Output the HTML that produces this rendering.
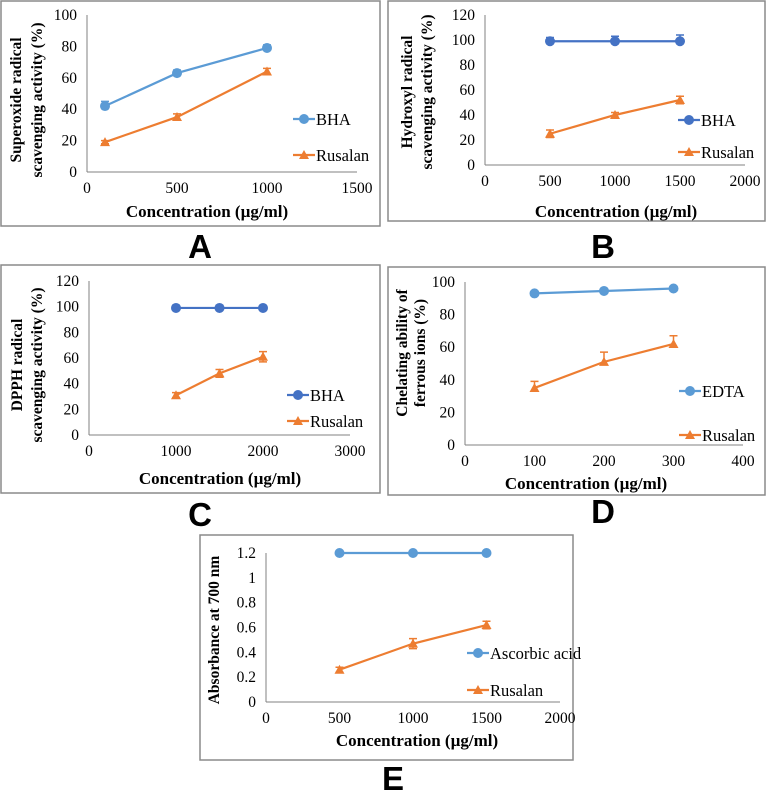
<!DOCTYPE html>
<html><head><meta charset="utf-8"><style>
body{margin:0;background:#fff;}
svg{display:block;}
text{font-family:"Liberation Serif",serif;fill:#000;}
.tick{font-size:15.5px;}
.xt{font-size:17px;font-weight:bold;}
.yt{font-size:15.5px;font-weight:bold;}
.leg{font-size:16.5px;}
.lab{font-family:"Liberation Sans",sans-serif;font-weight:bold;font-size:33px;}
</style></head><body>
<svg id="fig" width="766" height="790" viewBox="0 0 766 790"></svg>
<script>
// Panel A
const aX=[100,500,1000];
const aBHA=[42,63,79];
const aBHAErr=[3,2,2];
const aRus=[19,35,64];
const aRusErr=[1,2,2];
const aXTicks=[0,500,1000,1500];
const aYTicks=[0,20,40,60,80,100];
// Panel B
const bX=[500,1000,1500];
const bBHA=[99,99,99];
const bBHAErr=[3,4,5];
const bRus=[25,40,52];
const bRusErr=[3,2,3];
const bXTicks=[0,500,1000,1500,2000];
const bYTicks=[0,20,40,60,80,100,120];
// Panel C
const cX=[1000,1500,2000];
const cBHA=[99,99,99];
const cBHAErr=[2,2,1];
const cRus=[31,48,61];
const cRusErr=[2,3,4];
const cXTicks=[0,1000,2000,3000];
const cYTicks=[0,20,40,60,80,100,120];
// Panel D
const dX=[100,200,300];
const dEDTA=[93,94.5,96];
const dEDTAErr=[0,0,0];
const dRus=[35,51,62];
const dRusErr=[4,6,5];
const dXTicks=[0,100,200,300,400];
const dYTicks=[0,20,40,60,80,100];
// Panel E
const eX=[500,1000,1500];
const eAsc=[1.2,1.2,1.2];
const eAscErr=[0,0,0];
const eRus=[0.26,0.47,0.62];
const eRusErr=[0.02,0.04,0.03];
const eXTicks=[0,500,1000,1500,2000];
const eYTicks=[0,0.2,0.4,0.6,0.8,1,1.2];

const NS="http://www.w3.org/2000/svg";
const svg=document.getElementById('fig');
function mk(tag,attrs,parent,txt){const e=document.createElementNS(NS,tag);for(const k in attrs)e.setAttribute(k,attrs[k]);if(txt!==undefined)e.textContent=txt;(parent||svg).appendChild(e);return e;}

function panel(p){
  const g=mk('g',{});
  
  
  const box=mk('rect',{x:p.box[0],y:p.box[1],width:p.box[2]-p.box[0],height:p.box[3]-p.box[1],fill:'none',stroke:'#8a8a8a','stroke-width':1.5},g);
  
  
  const xmax=p.xt[p.xt.length-1], ymax=p.yt[p.yt.length-1];
  const sx=v=>p.x0+(p.x1-p.x0)*v/xmax;
  const sy=v=>p.y0-(p.y0-p.y1)*v/ymax;
  const ax=mk('line',{x1:p.x0,y1:p.y0,x2:p.x1,y2:p.y0,stroke:'#808080','stroke-width':1},g);
  
  
  const ay=mk('line',{x1:p.x0,y1:p.y0,x2:p.x0,y2:p.y1,stroke:'#808080','stroke-width':1},g);
  
  
  p.xt.forEach(v=>{const t=mk('text',{x:sx(v),y:p.y0+21,'text-anchor':'middle',class:'tick'},g,String(v));
    
    });
  p.yt.forEach(v=>{const t=mk('text',{x:p.x0-10,y:sy(v)+5,'text-anchor':'end',class:'tick'},g,String(v));
    
    });
  const xt=mk('text',{x:p.xtitle[0],y:p.xtitle[1],'text-anchor':'middle',class:'xt'},g,'Concentration (µg/ml)');
  
  
  p.ytitle.forEach((ln,i)=>{const t=mk('text',{x:0,y:0,'text-anchor':'middle',class:'yt',transform:`translate(${ln.x+6},${p.ycy}) rotate(-90)`},g,ln.t);
    
    });
  p.series.forEach((s,si)=>{
    const sg=mk('g',{},g);
    
    
    const pts=p.xs.map((x,i)=>sx(x)+','+sy(s.v[i])).join(' ');
    mk('polyline',{points:pts,fill:'none',stroke:s.c,'stroke-width':2.2},sg);
    p.xs.forEach((x,i)=>{
      const cx=sx(x),cy=sy(s.v[i]);
      if(s.e[i]>0){const ey=sy(s.v[i]+s.e[i]);
        const eb=mk('path',{d:`M${cx},${cy}V${ey}M${cx-4},${ey}H${cx+4}`+(s.tri&&!p.upOnly?`M${cx},${cy}V${sy(s.v[i]-s.e[i])}M${cx-4},${sy(s.v[i]-s.e[i])}H${cx+4}`:''),stroke:s.c,'stroke-width':1.5,fill:'none'},sg);
        
        }
      let m;
      if(s.tri) m=mk('polygon',{points:`${cx},${cy-5} ${cx-5},${cy+4} ${cx+5},${cy+4}`,fill:s.c},sg);
      else m=mk('circle',{cx:cx,cy:cy,r:5,fill:s.c},sg);
      
      
    });
    const ly=p.leg[si], lx=p.legx;
    const lg=mk('g',{},g);
    
    
    mk('line',{x1:lx,y1:ly,x2:lx+22,y2:ly,stroke:s.c,'stroke-width':2.2},lg);
    if(s.tri) mk('polygon',{points:`${lx+11},${ly-5} ${lx+6},${ly+4} ${lx+16},${ly+4}`,fill:s.c},lg);
    else mk('circle',{cx:lx+11,cy:ly,r:5,fill:s.c},lg);
    mk('text',{x:lx+23,y:ly+6,class:'leg'},lg,s.name);
  });
  const lab=mk('text',{x:p.lab[0],y:p.lab[1],'text-anchor':'middle',class:'lab'},g,p.id);
  
  
}
const LB='#5B9BD5', DB='#4472C4', OR='#ED7D31';
panel({id:'A',box:[1,1,380,226],x0:87,x1:357,y0:172,y1:15,xt:aXTicks,yt:aYTicks,xs:aX,
  series:[{name:'BHA',v:aBHA,e:aBHAErr,c:LB},{name:'Rusalan',v:aRus,e:aRusErr,c:OR,tri:true}],
  leg:[119,155],legx:293,xtitle:[207,217],ytitle:[{x:15,t:'Superoxide radical'},{x:36,t:'scavenging activity (%)'}],ycy:100,lab:[200,258]});
panel({id:'B',box:[388,1,765,221],x0:485,x1:745,y0:165,y1:15,xt:bXTicks,yt:bYTicks,xs:bX,
  series:[{name:'BHA',v:bBHA,e:bBHAErr,c:DB},{name:'Rusalan',v:bRus,e:bRusErr,c:OR,tri:true}],
  leg:[120,152],legx:678,xtitle:[616,217],ytitle:[{x:406,t:'Hydroxyl radical'},{x:426,t:'scavenging activity (%)'}],ycy:92,lab:[603,258]});
panel({id:'C',box:[1,265,380,493],x0:89,x1:350,y0:435,y1:281,xt:cXTicks,yt:cYTicks,xs:cX,
  series:[{name:'BHA',v:cBHA,e:cBHAErr,c:DB},{name:'Rusalan',v:cRus,e:cRusErr,c:OR,tri:true}],
  leg:[395,421],legx:287,xtitle:[220,484],ytitle:[{x:16,t:'DPPH radical'},{x:36,t:'scavenging activity (%)'}],ycy:365,lab:[200,526]});
panel({id:'D',box:[388,267,765,495],x0:465,x1:743,y0:445,y1:282,xt:dXTicks,yt:dYTicks,xs:dX,upOnly:true,
  series:[{name:'EDTA',v:dEDTA,e:dEDTAErr,c:LB},{name:'Rusalan',v:dRus,e:dRusErr,c:OR,tri:true}],
  leg:[391,435],legx:679,xtitle:[586,489],ytitle:[{x:401,t:'Chelating ability of'},{x:419,t:'ferrous ions (%)'}],ycy:353,lab:[603,523]});
panel({id:'E',box:[200,535,573,760],x0:266,x1:560,y0:702,y1:553,xt:eXTicks,yt:eYTicks,xs:eX,
  series:[{name:'Ascorbic acid',v:eAsc,e:eAscErr,c:LB},{name:'Rusalan',v:eRus,e:eRusErr,c:OR,tri:true}],
  leg:[653,690],legx:467,xtitle:[417,746],ytitle:[{x:213,t:'Absorbance at 700 nm'}],ycy:630,lab:[393,790]});
</script>
</body></html>
